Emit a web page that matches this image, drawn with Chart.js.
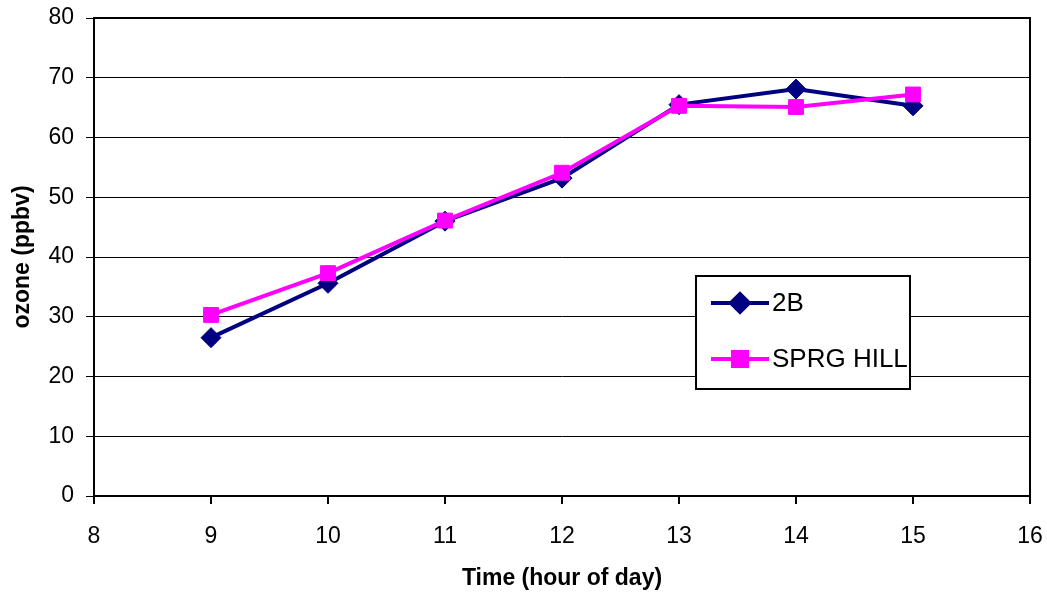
<!DOCTYPE html>
<html>
<head>
<meta charset="utf-8">
<script src="https://cdn.jsdelivr.net/npm/chart.js@4.4.0/dist/chart.umd.min.js"></script>
<style>
  html, body { margin: 0; padding: 0; background: #fff; }
  #wrap { width: 1047px; height: 596px; position: relative; }
</style>
</head>
<body>
<div id="wrap"><canvas id="c" width="1047" height="596"></canvas></div>
<script>
const hours = [9, 10, 11, 12, 13, 14, 15];
const series2B = [26.5, 35.6, 46.0, 53.2, 65.5, 68.1, 65.3];
const seriesSprgHill = [30.3, 37.3, 46.1, 54.1, 65.3, 65.1, 67.2];
const xTickValues = [8, 9, 10, 11, 12, 13, 14, 15, 16];
const yTickValues = [0, 10, 20, 30, 40, 50, 60, 70, 80];
const seriesNames = ['2B', 'SPRG HILL'];

const NAVY = '#000080';
const MAGENTA = '#FF00FF';
const FONT = '"Liberation Sans", Arial, sans-serif';

const toPoints = (vals) => hours.map((h, i) => ({ x: h, y: vals[i] }));

const bgPlugin = {
  id: 'bg',
  beforeDraw(chart) {
    const ctx = chart.ctx;
    ctx.save();
    ctx.fillStyle = '#fff';
    ctx.fillRect(0, 0, chart.width, chart.height);
    ctx.restore();
  }
};

const framePlugin = {
  id: 'frame',
  beforeDatasetsDraw(chart) {
    const { ctx, chartArea: a } = chart;
    ctx.save();
    ctx.strokeStyle = '#000';
    ctx.lineWidth = 2;
    ctx.beginPath();
    ctx.moveTo(a.left, a.top);
    ctx.lineTo(a.right, a.top);
    ctx.lineTo(a.right, a.bottom);
    ctx.stroke();
    ctx.restore();
  }
};

const legendPlugin = {
  id: 'boxLegend',
  afterDraw(chart) {
    const { ctx, chartArea: a } = chart;
    const bx = a.left + 602, by = a.top + 258, bw = 214, bh = 113;
    ctx.save();
    ctx.fillStyle = '#fff';
    ctx.fillRect(bx, by, bw, bh);
    ctx.strokeStyle = '#000';
    ctx.lineWidth = 2;
    ctx.strokeRect(bx, by, bw, bh);
    const ds = chart.data.datasets;
    const rows = [by + 27, by + 83];
    ds.forEach((d, i) => {
      const y = rows[i];
      const x0 = bx + 15, x1 = bx + 73, xm = bx + 44;
      ctx.strokeStyle = d.borderColor;
      ctx.lineWidth = d.borderWidth;
      ctx.beginPath();
      ctx.moveTo(x0, y);
      ctx.lineTo(x1, y);
      ctx.stroke();
      Chart.helpers.drawPoint(ctx, {
        pointStyle: d.pointStyle,
        radius: d.legendRadius,
        borderWidth: 1
      }, xm, y);
      ctx.fillStyle = d.backgroundColor;
      ctx.strokeStyle = d.borderColor;
      ctx.lineWidth = 1;
      ctx.fill();
      ctx.fillStyle = '#000';
      ctx.font = '26px ' + FONT;
      ctx.textBaseline = 'middle';
      ctx.textAlign = 'left';
      ctx.fillText(d.label, x1 + 3, y + 1);
    });
    ctx.restore();
  }
};

new Chart(document.getElementById('c'), {
  type: 'line',
  data: {
    datasets: [
      {
        label: seriesNames[0],
        data: toPoints(series2B),
        borderColor: NAVY,
        backgroundColor: NAVY,
        borderWidth: 4,
        pointStyle: 'rectRot',
        pointRadius: 10,
        legendRadius: 9,
        pointBorderWidth: 1,
        order: 2
      },
      {
        label: seriesNames[1],
        data: toPoints(seriesSprgHill),
        borderColor: MAGENTA,
        backgroundColor: MAGENTA,
        borderWidth: 4,
        pointStyle: 'rect',
        pointRadius: 10.5,
        legendRadius: 10,
        pointBorderWidth: 1,
        order: 1
      }
    ]
  },
  options: {
    responsive: false,
    animation: false,
    devicePixelRatio: 1,
    layout: { autoPadding: false, padding: { top: 18, right: 17, left: 0, bottom: 0 } },
    plugins: { legend: { display: false }, tooltip: { enabled: false } },
    elements: { line: { tension: 0 } },
    scales: {
      x: {
        type: 'linear',
        min: 8, max: 16,
        afterBuildTicks(s) { s.ticks = xTickValues.map(v => ({ value: v })); },
        afterFit(s) { s.height = 100; s.paddingLeft = 0; s.paddingRight = 0; },
        grid: { drawOnChartArea: false, drawTicks: true, tickLength: 8, color: '#000', lineWidth: 2 },
        border: { display: true, color: '#000', width: 2 },
        ticks: { color: '#000', font: { family: FONT, size: 23 }, padding: 19, maxRotation: 0 },
        title: { display: true, text: 'Time (hour of day)', color: '#000', font: { family: FONT, size: 23, weight: 'bold' }, padding: { top: 10 } }
      },
      y: {
        type: 'linear',
        min: 0, max: 80,
        afterBuildTicks(s) { s.ticks = yTickValues.map(v => ({ value: v })); },
        afterFit(s) { s.width = 94; s.paddingTop = 0; s.paddingBottom = 0; },
        grid: { drawOnChartArea: true, drawTicks: true, tickLength: 8, color: '#000', lineWidth: 1 },
        border: { display: true, color: '#000', width: 2 },
        ticks: { color: '#000', font: { family: FONT, size: 23 }, padding: 12 },
        title: { display: true, text: 'ozone (ppbv)', color: '#000', font: { family: FONT, size: 23, weight: 'bold' }, padding: { top: 9, bottom: 0 } }
      }
    }
  },
  plugins: [bgPlugin, framePlugin, legendPlugin]
});
</script>
</body>
</html>
